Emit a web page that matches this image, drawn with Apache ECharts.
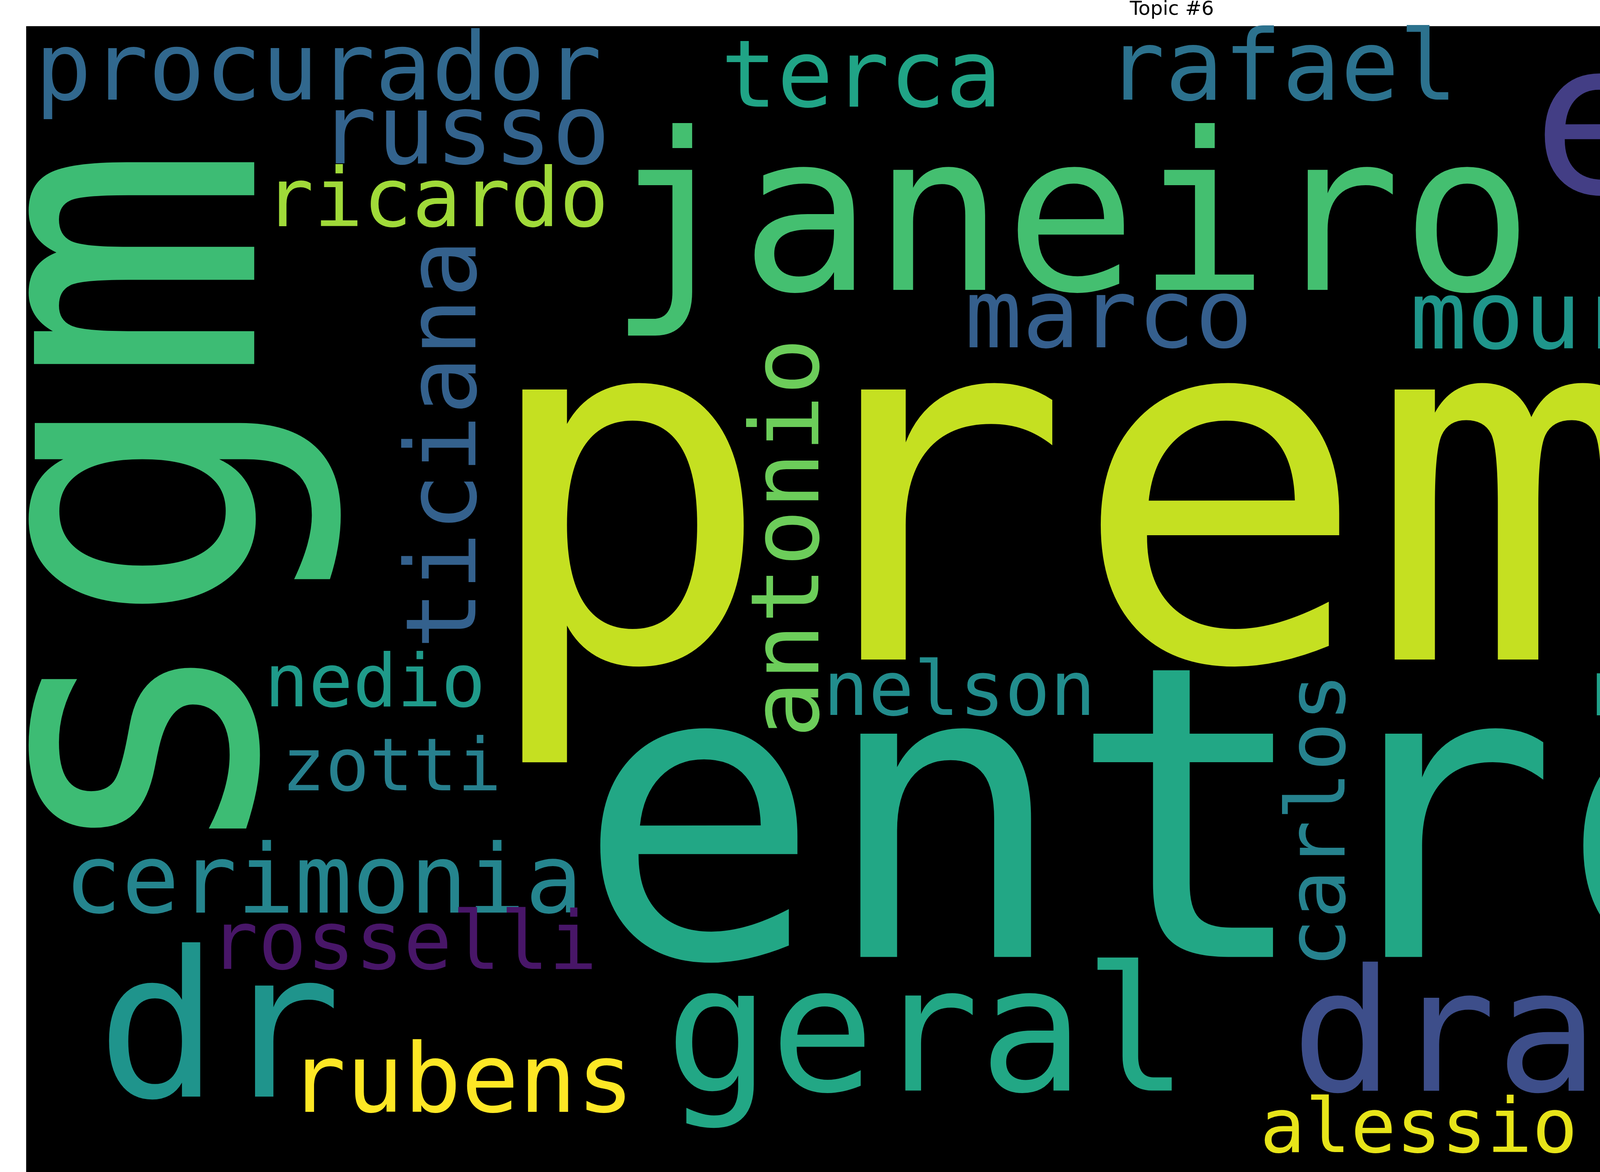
<!DOCTYPE html>
<html>
<head>
<meta charset="utf-8">
<title>Topic #6</title>
<script src="https://cdn.jsdelivr.net/npm/echarts@6/dist/echarts.min.js"></script>
<style>
  html, body { margin: 0; padding: 0; background: #fff; }
  #chart { width: 6000px; height: 3000px; }
</style>
</head>
<body>
<div id="chart"></div>
<script>
// words of topic #6 and their relative weight (premio = 1)
var words = ['premio', 'entrega', 'sgm', 'janeiro', 'equipe', 'dr', 'geral', 'dra',
  'procurador', 'terca', 'rafael', 'russo', 'marco', 'mourao', 'rizek', 'ticiana',
  'antonio', 'cerimonia', 'rubens', 'nascimento', 'luciana', 'carlos', 'rosselli',
  'ricardo', 'nedio', 'zotti', 'nelson', 'rosario', 'alessio', 'renato'];
var weights = [1.00, 0.827, 0.816, 0.445, 0.432, 0.411, 0.352, 0.344,
  0.191, 0.189, 0.197, 0.196, 0.194, 0.192, 0.195, 0.197,
  0.192, 0.194, 0.194, 0.192, 0.163, 0.165, 0.163,
  0.165, 0.149, 0.148, 0.153, 0.156, 0.153, 0.154];

// layout of the cloud (pixel space of the picture), rotation, colour
var wordX = [3503, 3676, 383, 2741, 4908, 561, 2373, 3699,
  815, 2205, 3282, 1189, 2838, 4048, 5114, 1152,
  2032, 828, 1181, 5011, 5818, 3388, 1033,
  1118, 960, 1002, 2456, 4468, 3632, 5563];
var wordY = [1360, 2178, 1297, 596, 352, 2672, 2676, 2679,
  192, 211, 190, 354, 825, 829, 812, 1137,
  1377, 2272, 2782, 2863, 1050, 2100, 2426,
  525, 1759, 1974, 1780, 1780, 2899, 2638];
var wordRot = [0, 0, 90, 0, 0, 0, 0, 0,
  0, 0, 0, 0, 0, 0, 0, 90,
  90, 0, 0, 0, 90, 90, 0,
  0, 0, 0, 0, 0, 0, 0];
var wordColor = ['#c5e021', '#22a785', '#3dbc74', '#44bf70', '#433e85', '#1f948c', '#22a785', '#3d4e8a',
  '#31688e', '#20a486', '#2c728e', '#33638d', '#355f8d', '#1f968b', '#3b528b', '#34618d',
  '#6ccd5a', '#25858e', '#fde725', '#27818e', '#414487', '#26828e', '#481668',
  '#a0da39', '#1f9a8a', '#27808e', '#228d8d', '#1fa088', '#e7e419', '#6ece58'];

var MAX_FONT = 1264;

var chart = echarts.init(document.getElementById('chart'), null, { renderer: 'canvas' });

var points = [];
for (var i = 0; i < words.length; i++) {
  points.push({
    name: words[i],
    value: [wordX[i], wordY[i]],
    label: {
      fontSize: Math.round(weights[i] * MAX_FONT),
      rotate: wordRot[i],
      color: wordColor[i]
    }
  });
}

var option = {
  backgroundColor: '#ffffff',
  animation: false,
  title: {
    text: 'Topic #6',
    left: 'center',
    top: 0,
    padding: 0,
    textStyle: {
      fontFamily: 'DejaVu Sans',
      fontSize: 50,
      fontWeight: 'normal',
      color: '#000'
    }
  },
  grid: {
    left: 67,
    top: 67,
    width: 5867,
    height: 2933,
    show: true,
    backgroundColor: '#000000',
    borderWidth: 0
  },
  xAxis: {
    type: 'value',
    min: 67,
    max: 5934,
    show: false
  },
  yAxis: {
    type: 'value',
    min: 67,
    max: 3000,
    inverse: true,
    show: false
  },
  series: [{
    type: 'scatter',
    symbolSize: 0,
    silent: true,
    itemStyle: { opacity: 1 },
    data: points,
    label: {
      show: true,
      position: 'inside',
      formatter: '{b}',
      opacity: 1,
      fontFamily: 'DejaVu Sans Mono',
      align: 'center',
      verticalAlign: 'middle'
    }
  }]
};

chart.setOption(option);
</script>
</body>
</html>
